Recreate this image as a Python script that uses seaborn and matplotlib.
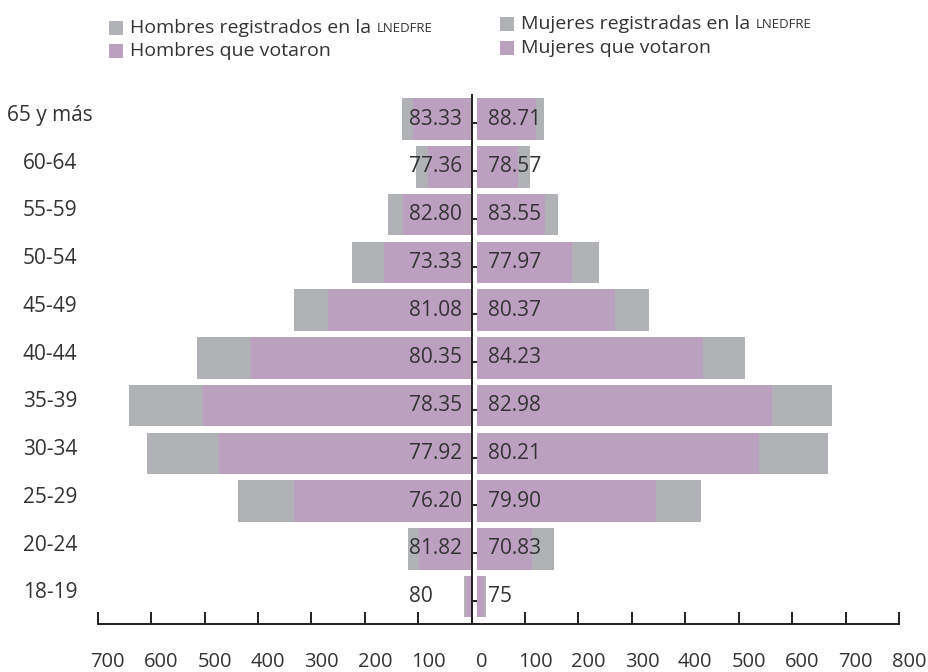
import matplotlib
matplotlib.use("Agg")
import matplotlib.pyplot as plt
import matplotlib.transforms as mtransforms
from matplotlib.patches import Rectangle
import seaborn as sns

# Grupos de edad, de mayor a menor
grupos = ["65 y más", "60-64", "55-59", "50-54", "45-49", "40-44",
          "35-39", "30-34", "25-29", "20-24", "18-19"]

# Personas registradas en la LNEDFRE y personas que votaron
hombres_registrados = [132, 106, 157, 225, 333, 514, 642, 607, 437, 121, 15]
hombres_votaron = [110, 82, 130, 165, 270, 413, 503, 473, 333, 99, 12]
mujeres_registradas = [124, 98, 152, 227, 321, 501, 664, 657, 418, 144, 16]
mujeres_votaron = [110, 77, 127, 177, 258, 422, 551, 527, 334, 102, 12]

# Escala inferior (hombres a la izquierda, mujeres a la derecha)
escala = [-700, -600, -500, -400, -300, -200, -100, 0,
          100, 200, 300, 400, 500, 600, 700, 800]

GRIS = "#b1b2b5"
MORADO = "#bca0c0"
TEXTO = "#333333"
LINEA = "#231f20"

sns.set_theme(style="white")
plt.rcParams["font.family"] = ["Open Sans", "DejaVu Sans"]
plt.rcParams["text.color"] = TEXTO

W, H = 929, 672
fig = plt.figure(figsize=(W / 100, H / 100), dpi=100)


def caja(x0, y0, x1, y1):
    """Rectángulo en píxeles (origen arriba a la izquierda) a fracción de figura."""
    return [x0 / W, 1 - y1 / H, (x1 - x0) / W, (y1 - y0) / H]


TOP, BOTTOM = 95.3, 624.0
PASO = 47.75
ylim = (-0.5 + (BOTTOM - TOP) / PASO, -0.5)

ax_l = fig.add_axes(caja(97.7, TOP, 472.3, BOTTOM))
ax_r = fig.add_axes(caja(477.3, TOP, 904.5, BOTTOM))
ax_b = fig.add_axes(caja(97.7, 600, 899.0, BOTTOM))
for ax in (ax_l, ax_r, ax_b):
    ax.set_facecolor("none")

# Barras: registrados detrás, votantes delante
for ax, reg, vot in ((ax_l, hombres_registrados, hombres_votaron),
                     (ax_r, mujeres_registradas, mujeres_votaron)):
    sns.barplot(x=reg, y=grupos, order=grupos, orient="h", color=GRIS,
                saturation=1, width=0.87, linewidth=0, errorbar=None, ax=ax)
    sns.barplot(x=vot, y=grupos, order=grupos, orient="h", color=MORADO,
                saturation=1, width=0.87, linewidth=0, errorbar=None, ax=ax)
    ax.set_ylim(*ylim)
    ax.set_xlabel("")
    ax.set_ylabel("")
    ax.set_xticks([])
    for s in ax.spines.values():
        s.set_visible(False)

ax_l.set_xlim(700, 0)
ax_r.set_xlim(0, 800)
ax_r.set_yticks([])


def porcentaje(v, r):
    p = round(v / r * 100, 2)
    return f"{int(p)}" if p == int(p) else f"{p:.2f}"


for i in range(len(grupos)):
    ax_l.text(118, i, porcentaje(hombres_votaron[i], hombres_registrados[i]),
              ha="left", va="center", fontsize=15, color=TEXTO)
    ax_r.text(20, i, porcentaje(mujeres_votaron[i], mujeres_registradas[i]),
              ha="left", va="center", fontsize=15, color=TEXTO)

# Eje central con marcas hacia la derecha
ax_l.spines["right"].set_visible(True)
ax_l.spines["right"].set_linewidth(1.4)
ax_l.spines["right"].set_color(LINEA)
ax_l.set_yticks([i + 0.09 for i in range(len(grupos))])
ax_l.yaxis.set_ticks_position("right")
ax_l.tick_params(axis="y", direction="out", length=4, width=1.4, color=LINEA,
                 labelright=False, labelleft=False, right=True, left=False)

# Etiquetas de los grupos de edad
trans = mtransforms.blended_transform_factory(fig.transFigure, ax_l.transData)
for i, g in enumerate(grupos):
    ax_l.text(50 / W, i - 0.08, g, transform=trans, ha="center", va="center",
              fontsize=15, color=TEXTO, clip_on=False)

# Escala inferior
ax_b.set_xlim(escala[0], escala[-1])
ax_b.set_ylim(0, 1)
ax_b.set_yticks([])
for k, s in ax_b.spines.items():
    s.set_visible(k == "bottom")
ax_b.spines["bottom"].set_linewidth(1.4)
ax_b.spines["bottom"].set_color(LINEA)
ax_b.set_xticks(escala)
ax_b.set_xticklabels([str(abs(v)) for v in escala])
ax_b.tick_params(axis="x", direction="in", length=8.6, width=1.4, color=LINEA,
                 pad=20, labelsize=14.5, labelcolor=TEXTO, bottom=True)
desplazamiento = mtransforms.ScaledTranslation(0.10, 0, fig.dpi_scale_trans)
for lab in ax_b.get_xticklabels():
    lab.set_transform(lab.get_transform() + desplazamiento)


# Leyenda
def entrada(x_sq, y_c, color, texto, siglas=None):
    fig.patches.append(Rectangle((x_sq / W, 1 - (y_c + 7) / H), 14 / W, 14 / H,
                                 transform=fig.transFigure, color=color,
                                 linewidth=0))
    t = fig.text((x_sq + 21) / W, 1 - y_c / H, texto, ha="left", va="center",
                 fontsize=14, color=TEXTO)
    if siglas:
        ax_b.annotate(siglas, xy=(1, 0), xycoords=t, xytext=(4, 1.2),
                      textcoords="offset points", ha="left", va="bottom",
                      fontsize=9.5, color=TEXTO, annotation_clip=False)


entrada(109, 28, GRIS, "Hombres registrados en la", "LNEDFRE")
entrada(109, 51, MORADO, "Hombres que votaron")
entrada(500, 24, GRIS, "Mujeres registradas en la", "LNEDFRE")
entrada(500, 48, MORADO, "Mujeres que votaron")

fig.savefig("out.png", dpi=100)
